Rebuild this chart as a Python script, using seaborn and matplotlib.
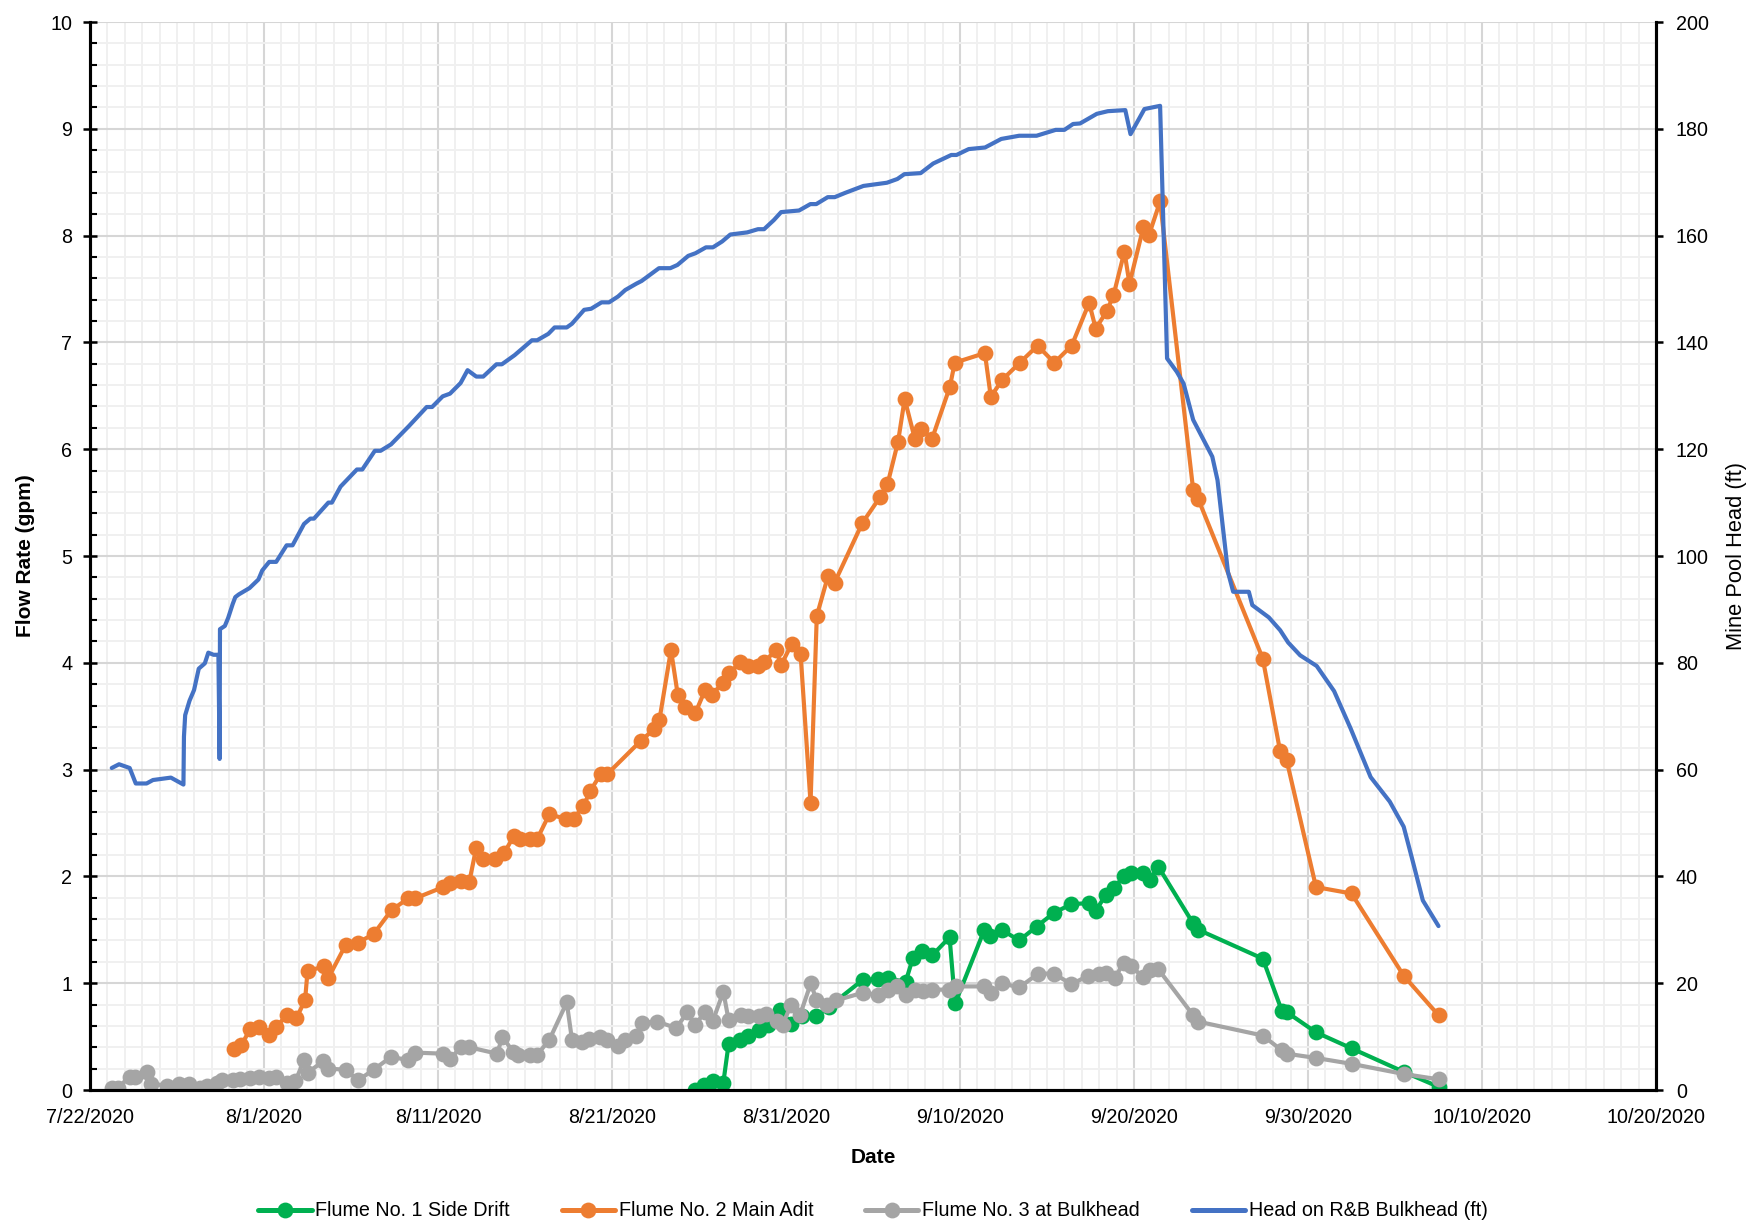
import matplotlib
matplotlib.use("Agg")
import matplotlib.pyplot as plt
from matplotlib.lines import Line2D
from matplotlib.ticker import MultipleLocator, FixedLocator, FuncFormatter
import matplotlib.dates as mdates
import seaborn as sns
import pandas as pd

START = pd.Timestamp("2020-07-22")

# x values are days after 7/22/2020
flume1_day = [34.75, 35.27, 35.8, 36.4, 36.7, 37.38, 37.83, 38.45, 38.96, 39.68,
              40.3, 40.9, 41.75, 42.47, 44.4, 45.3, 45.85, 46.87, 47.3, 47.8,
              48.4, 49.4, 49.72, 51.4, 51.7, 52.4, 53.4, 54.4, 55.41, 56.4,
              57.4, 57.8, 58.4, 58.85, 59.4, 59.8, 60.5, 60.9, 61.4, 63.4,
              63.7, 67.4, 68.5, 68.77, 70.46, 72.5, 75.5, 77.5]
flume1_gpm = [0.0, 0.05, 0.08, 0.07, 0.43, 0.47, 0.51, 0.56, 0.61, 0.75,
              0.62, 0.69, 0.69, 0.78, 1.03, 1.04, 1.05, 1.01, 1.24, 1.30,
              1.26, 1.43, 0.81, 1.50, 1.44, 1.50, 1.40, 1.53, 1.66, 1.74,
              1.75, 1.68, 1.83, 1.89, 2.00, 2.03, 2.03, 1.97, 2.09, 1.56,
              1.50, 1.23, 0.74, 0.73, 0.54, 0.39, 0.17, 0.03]

flume2_day = [8.3, 8.7, 9.2, 9.7, 10.3, 10.7, 11.3, 11.85, 12.36, 12.5,
              13.45, 13.7, 14.7, 15.4, 16.3, 17.33, 18.3, 18.7, 20.3, 20.7,
              21.3, 21.8, 22.2, 22.6, 23.3, 23.8, 24.37, 24.7, 25.3, 25.7,
              26.39, 27.35, 27.79, 28.36, 28.75, 29.36, 29.74, 31.66, 32.43, 32.72,
              33.39, 33.78, 34.21, 34.79, 35.35, 35.73, 36.36, 36.75, 37.38, 37.8,
              38.38, 38.76, 39.43, 39.72, 40.34, 40.84, 41.41, 41.77, 42.41, 42.79,
              44.39, 45.4, 45.83, 46.44, 46.82, 47.4, 47.78, 48.4, 49.41, 49.7,
              51.43, 51.77, 52.43, 53.44, 54.46, 55.42, 56.42, 57.42, 57.8, 58.43,
              58.82, 59.45, 59.74, 60.54, 60.87, 61.5, 63.4, 63.7, 67.4, 68.4,
              68.77, 70.46, 72.5, 75.5, 77.5]
flume2_gpm = [0.38, 0.42, 0.57, 0.59, 0.515, 0.59, 0.70, 0.67, 0.84, 1.11,
              1.16, 1.05, 1.36, 1.38, 1.46, 1.685, 1.795, 1.795, 1.90, 1.935,
              1.96, 1.95, 2.27, 2.16, 2.16, 2.22, 2.38, 2.35, 2.35, 2.35,
              2.58, 2.54, 2.54, 2.66, 2.80, 2.96, 2.96, 3.27, 3.38, 3.46,
              4.12, 3.70, 3.59, 3.53, 3.745, 3.70, 3.81, 3.90, 4.01, 3.97,
              3.97, 4.01, 4.12, 3.98, 4.18, 4.08, 2.69, 4.44, 4.81, 4.75,
              5.31, 5.55, 5.67, 6.07, 6.47, 6.10, 6.19, 6.10, 6.58, 6.81,
              6.90, 6.49, 6.65, 6.81, 6.97, 6.81, 6.97, 7.37, 7.13, 7.29,
              7.44, 7.85, 7.55, 8.08, 8.01, 8.32, 5.62, 5.53, 4.04, 3.17,
              3.09, 1.90, 1.84, 1.07, 0.70]

flume3_day = [1.25, 1.6, 2.28, 2.6, 3.25, 3.5, 4.4, 5.1, 5.7, 6.3,
              6.7, 7.3, 7.6, 8.2, 8.6, 9.2, 9.7, 10.3, 10.7, 11.3,
              11.8, 12.3, 12.5, 13.4, 13.7, 14.7, 15.4, 16.3, 17.3, 18.3,
              18.7, 20.3, 20.7, 21.3, 21.8, 23.4, 23.7, 24.3, 24.6, 25.3,
              25.7, 26.4, 27.4, 27.7, 28.3, 28.7, 29.3, 29.7, 30.35, 30.76,
              31.4, 31.7, 32.6, 33.7, 34.33, 34.75, 35.37, 35.8, 36.4, 36.7,
              37.4, 37.83, 38.45, 38.86, 39.48, 39.8, 40.3, 40.8, 41.43, 41.75,
              42.37, 42.9, 44.4, 45.3, 45.85, 46.37, 46.87, 47.4, 47.9, 48.4,
              49.35, 49.76, 51.4, 51.8, 52.4, 53.4, 54.5, 55.4, 56.4, 57.37,
              57.98, 58.4, 58.9, 59.4, 59.83, 60.5, 60.9, 61.4, 63.4, 63.7,
              67.4, 68.5, 68.77, 70.46, 72.5, 75.5, 77.5]
flume3_gpm = [0.02, 0.02, 0.125, 0.125, 0.17, 0.06, 0.04, 0.056, 0.06, 0.016,
              0.04, 0.07, 0.09, 0.09, 0.10, 0.11, 0.125, 0.11, 0.125, 0.07,
              0.08, 0.28, 0.16, 0.27, 0.20, 0.19, 0.09, 0.19, 0.31, 0.28,
              0.35, 0.34, 0.29, 0.40, 0.40, 0.34, 0.50, 0.36, 0.33, 0.33,
              0.33, 0.47, 0.82, 0.47, 0.45, 0.48, 0.50, 0.47, 0.41, 0.47,
              0.51, 0.63, 0.64, 0.58, 0.73, 0.61, 0.73, 0.65, 0.92, 0.655,
              0.70, 0.69, 0.69, 0.71, 0.65, 0.61, 0.80, 0.70, 1.00, 0.84,
              0.80, 0.84, 0.91, 0.89, 0.94, 0.97, 0.89, 0.94, 0.93, 0.94,
              0.94, 0.97, 0.97, 0.905, 1.00, 0.96, 1.09, 1.09, 0.99, 1.07,
              1.09, 1.10, 1.05, 1.19, 1.16, 1.06, 1.12, 1.13, 0.70, 0.64,
              0.51, 0.37, 0.34, 0.30, 0.245, 0.15, 0.10]

head_day = [1.25, 1.67, 2.28, 2.63, 3.25, 3.62, 4.65, 5.37, 5.4, 5.47,
            5.72, 5.98, 6.25, 6.6, 6.8, 7.1, 7.38, 7.45, 7.47, 7.75,
            7.94, 8.2, 8.35, 8.55, 9.17, 9.68, 9.9, 10.3, 10.7, 11.3,
            11.64, 12.3, 12.66, 12.87, 13.7, 13.9, 14.4, 15.34, 15.65, 16.37,
            16.7, 17.3, 18.32, 19.35, 19.66, 20.27, 20.69, 21.3, 21.7, 22.2,
            22.6, 23.36, 23.67, 24.4, 25.4, 25.7, 26.34, 26.7, 27.4, 27.7,
            28.4, 28.8, 29.4, 29.83, 30.35, 30.76, 31.4, 31.7, 32.7, 33.35,
            33.76, 34.38, 34.8, 35.4, 35.8, 36.33, 36.8, 37.77, 38.39, 38.74,
            39.3, 39.72, 40.75, 41.4, 41.74, 42.4, 42.8, 43.4, 44.45, 45.8,
            46.4, 46.8, 47.74, 48.46, 49.5, 49.8, 50.5, 51.44, 52.37, 53.4,
            54.4, 55.5, 56.0, 56.5, 56.9, 57.86, 58.5, 59.5, 59.8, 60.6,
            61.5, 61.9, 62.46, 62.85, 63.4, 64.5, 64.8, 65.4, 65.7, 66.6,
            66.8, 67.75, 68.4, 68.86, 69.55, 70.5, 71.5, 72.45, 73.6, 74.7,
            75.5, 75.96, 76.6, 77.5]
head_ft = [60.3, 61.0, 60.3, 57.4, 57.4, 58.05, 58.5, 57.2, 66.2, 70.2,
           72.9, 74.9, 78.9, 79.9, 81.9, 81.5, 81.5, 62.0, 86.3, 86.9,
           88.4, 91.0, 92.3, 92.8, 94.0, 95.6, 97.3, 98.9, 98.9, 102.0,
           102.0, 106.0, 107.0, 107.0, 110.0, 110.0, 113.0, 116.2, 116.2, 119.7,
           119.7, 120.9, 124.3, 127.9, 127.9, 129.9, 130.4, 132.4, 134.8, 133.6,
           133.6, 135.9, 135.9, 137.6, 140.4, 140.4, 141.6, 142.8, 142.8, 143.5,
           146.1, 146.3, 147.5, 147.5, 148.6, 149.8, 151.0, 151.5, 153.9, 153.9,
           154.5, 156.2, 156.7, 157.8, 157.8, 158.9, 160.2, 160.6, 161.2, 161.2,
           162.9, 164.4, 164.7, 165.9, 165.9, 167.2, 167.2, 168.0, 169.3, 169.9,
           170.6, 171.5, 171.7, 173.5, 175.1, 175.1, 176.2, 176.5, 178.1, 178.7,
           178.7, 179.8, 179.8, 180.9, 181.0, 182.8, 183.3, 183.5, 179.0, 183.7,
           184.3, 137.0, 134.5, 132.3, 125.5, 118.6, 114.2, 97.0, 93.3, 93.3,
           90.8, 88.5, 86.1, 83.8, 81.4, 79.4, 74.7, 67.7, 58.6, 54.0,
           49.3, 43.6, 35.5, 30.7]

series_names = ["Flume No. 1 Side Drift", "Flume No. 2 Main Adit",
                "Flume No. 3 at Bulkhead", "Head on R&B Bulkhead (ft)"]
series_colors = ["#00B050", "#ED7D31", "#A5A5A5", "#4472C4"]

tick_dates = pd.date_range("2020-07-22", "2020-10-20", freq="10D")


def to_frame(days, values):
    return pd.DataFrame({"Date": START + pd.to_timedelta(days, unit="D"), "Value": values})


sns.set_style("white")
plt.rcParams["font.family"] = ["Liberation Sans", "DejaVu Sans"]
plt.rcParams["text.color"] = "black"
plt.rcParams["axes.labelcolor"] = "black"
plt.rcParams["xtick.color"] = "black"
plt.rcParams["ytick.color"] = "black"

fig = plt.figure(figsize=(1754 / 150, 1227 / 150), dpi=150)
ax = fig.add_axes([90 / 1754, 1 - 1090 / 1227, (1656 - 90) / 1754, (1090 - 22) / 1227])
ax2 = ax.twinx()

# grid first
ax.set_axisbelow(True)
ax.xaxis.set_major_locator(FixedLocator(mdates.date2num(tick_dates)))
ax.xaxis.set_minor_locator(mdates.DayLocator())
ax.yaxis.set_major_locator(MultipleLocator(1))
ax.yaxis.set_minor_locator(MultipleLocator(0.2))
ax.grid(which="minor", color="#F0F0F0", linewidth=0.9)
ax.grid(which="major", color="#D6D6D6", linewidth=1.0)

MS = 7.6
LW = 2.0
flow_series = [(flume1_day, flume1_gpm), (flume2_day, flume2_gpm), (flume3_day, flume3_gpm)]
for (d, v), c in zip(flow_series, series_colors[:3]):
    sns.lineplot(data=to_frame(d, v), x="Date", y="Value", ax=ax, color=c,
                 marker="o", markersize=MS, markeredgewidth=0, linewidth=LW,
                 estimator=None, sort=False, legend=False)

sns.lineplot(data=to_frame(head_day, head_ft), x="Date", y="Value", ax=ax2,
             color=series_colors[3], linewidth=LW, estimator=None, sort=False, legend=False)

ax.set_xlim(tick_dates[0], tick_dates[-1])
ax.set_ylim(0, 10)
ax2.set_ylim(0, 200)
ax2.yaxis.set_major_locator(MultipleLocator(20))

ax.xaxis.set_major_formatter(FuncFormatter(
    lambda x, pos: "{d.month}/{d.day}/{d.year}".format(d=mdates.num2date(x))))

for a in (ax, ax2):
    for s in a.spines.values():
        s.set_visible(False)
ax.spines["left"].set_visible(True)
ax.spines["bottom"].set_visible(True)
ax2.spines["right"].set_visible(True)
for s in (ax.spines["left"], ax.spines["bottom"], ax2.spines["right"]):
    s.set_color("black")
    s.set_linewidth(1.5)

ax.tick_params(axis="both", which="major", direction="inout", length=7, width=1.2,
               colors="black", labelsize=9.5, pad=5)
ax.tick_params(axis="both", which="minor", direction="in", length=3.5, width=1.0, colors="black")
ax.tick_params(axis="y", which="both", right=False)
ax2.tick_params(axis="y", which="major", direction="out", length=3.5, width=1.2,
                colors="black", labelsize=9.5, pad=6)

ax.set_xlabel("Date", fontsize=10, fontweight="bold")
ax.set_ylabel("Flow Rate (gpm)", fontsize=10, fontweight="bold")
ax2.set_ylabel("Mine Pool Head (ft)", fontsize=10.5)
ax.xaxis.set_label_coords(0.5, -0.054)
ax.yaxis.set_label_coords(-0.035, 0.5)
ax2.yaxis.set_label_coords(1.045, 0.5)

handles = []
for name, c in zip(series_names, series_colors):
    mk = "o" if "Flume" in name else None
    handles.append(Line2D([], [], color=c, linewidth=2.4, marker=mk, markersize=MS,
                          markeredgewidth=0))
fig.legend(handles, series_names, loc="center", bbox_to_anchor=(873 / 1754, 1 - 1211 / 1227),
           ncol=4, frameon=False, fontsize=9.5, handlelength=2.7, handletextpad=0.2,
           columnspacing=2.6)

fig.savefig("out.png", dpi=150)
